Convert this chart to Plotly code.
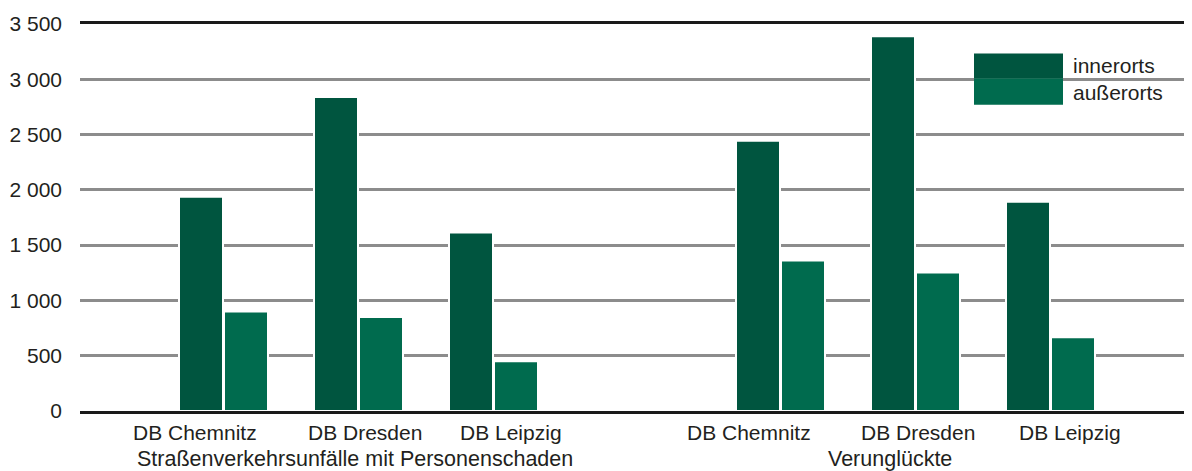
import plotly.graph_objects as go

# ---- data ----
groups = ["Straßenverkehrsunfälle mit Personenschaden", "Verunglückte"]
cities = ["DB Chemnitz", "DB Dresden", "DB Leipzig"]
innerorts = [1938, 2840, 1614, 2443, 3390, 1893]
ausserorts = [901, 849, 451, 1361, 1253, 666]
y_ticks = [0, 500, 1000, 1500, 2000, 2500, 3000, 3500]
y_ticktext = ["0", "500", "1 000", "1 500", "2 000", "2 500", "3 000", "3 500"]

# ---- layout geometry (page pixel based; page body has an 8px margin) ----
OFF = 8
PW, PH_ = 1192, 471              # window size
W, H = PW - OFF, PH_ - OFF        # figure size
PLOT_L, PLOT_T, PLOT_B = 80, 23.5, 411.5   # page pixel positions of the plot area
L = PLOT_L - OFF
T = PLOT_T - OFF
B = PH_ - PLOT_B
R = 0
PLOT_H = PLOT_B - PLOT_T
YMAX = 3500
DARK = "#00553F"
LIGHT = "#006B4E"
FONT = "Liberation Sans, Arial, sans-serif"
TXT = "#231F20"

group_base = [143.5, 700.5]
step = 135
xpos = [group_base[g] + i * step for g in range(len(groups)) for i in range(len(cities))]
label_off = [-29, 6, 17]   # label offsets relative to pair centre
label_off2 = [-32, 2, 19]
lab_x = [group_base[0] + i * step + label_off[i] for i in range(3)] + \
        [group_base[1] + i * step + label_off2[i] for i in range(3)]
group_lab_x = [275, 810]

def py2paper(py):
    return (PLOT_B - py) / PLOT_H

def py2y(py):
    return py2paper(py) * YMAX

fig = go.Figure()
fig.add_trace(go.Bar(x=xpos, y=innerorts, name="innerorts", offset=-44.5, width=44,
                     marker=dict(color=DARK, line=dict(color="white", width=2)),
                     showlegend=False))
fig.add_trace(go.Bar(x=xpos, y=ausserorts, name="außerorts", offset=0.5, width=44,
                     marker=dict(color=LIGHT, line=dict(color="white", width=2)),
                     showlegend=False))

ann = []
for xx, c in zip(lab_x, cities * 2):
    ann.append(dict(x=xx, y=py2paper(433.5), xref="x", yref="paper", text=c, showarrow=False,
                    yanchor="middle", xanchor="center", font=dict(size=21, color=TXT, family=FONT)))
for xx, gname in zip(group_lab_x, groups):
    ann.append(dict(x=xx, y=py2paper(460), xref="x", yref="paper", text=gname, showarrow=False,
                    yanchor="middle", xanchor="center", font=dict(size=21.5, color=TXT, family=FONT)))
# legend text
for ty, t in [(65, "innerorts"), (92, "außerorts")]:
    ann.append(dict(x=1071 - PLOT_L, y=py2paper(ty), xref="x", yref="paper", text=t, showarrow=False,
                    yanchor="middle", xanchor="left", font=dict(size=21, color=TXT, family=FONT)))

shapes = [
    dict(type="rect", xref="x", yref="y", x0=974 - PLOT_L, x1=1063 - PLOT_L, y0=py2y(78), y1=py2y(53),
         fillcolor=DARK, line=dict(width=0), layer="above"),
    dict(type="rect", xref="x", yref="y", x0=974 - PLOT_L, x1=1063 - PLOT_L, y0=py2y(104.5), y1=py2y(78),
         fillcolor=LIGHT, line=dict(width=0), layer="above"),
]

fig.update_layout(
    width=W, height=H,
    margin=dict(l=L, r=R, t=T, b=B, pad=0),
    paper_bgcolor="white", plot_bgcolor="white",
    barmode="overlay",
    font=dict(family=FONT, size=21, color=TXT),
    annotations=ann, shapes=shapes,
)
fig.update_xaxes(range=[0, W - L - R], showgrid=False, zeroline=False, showticklabels=False,
                 showline=True, mirror=True, linecolor="#1a1a1a", linewidth=2.5, ticks="",
                 fixedrange=True)
fig.update_yaxes(range=[0, YMAX], tickvals=y_ticks, ticktext=y_ticktext, showgrid=True,
                 gridcolor="#8C8C8C", gridwidth=2.5, zeroline=False, showline=False,
                 ticks="", ticklabelstandoff=17, tickfont=dict(size=21, color=TXT, family=FONT),
                 fixedrange=True)

fig.write_html("out.html")
